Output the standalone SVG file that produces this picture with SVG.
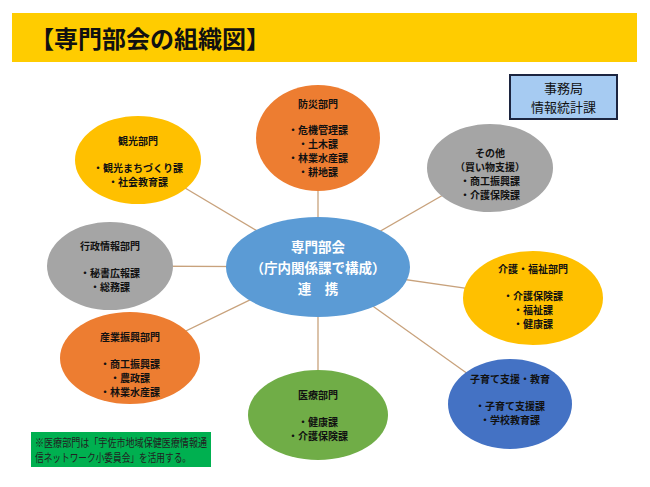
<svg xmlns="http://www.w3.org/2000/svg" width="650" height="487" viewBox="0 0 650 487">
<style>
text{font-family:"Noto Sans CJK JP","Noto Sans CJK SC",sans-serif;text-anchor:middle;fill:#111}
.n{font-size:10px;font-weight:bold}
.c{font-size:13.5px;font-weight:bold;fill:#fff}
.conn line{stroke:#C8A27C;stroke-width:1.3}
</style>
<rect width="650" height="487" fill="#fff"/>
<g id="header">
<rect x="12" y="13" width="625" height="49" fill="#FFCC00"/>
<text x="30" y="48" style="font-size:24px;font-weight:bold;text-anchor:start">【専門部会の組織図】</text>
</g>
<g id="jimukyoku">
<rect x="510" y="75" width="107" height="44" fill="#A6CBF2" stroke="#1C2540" stroke-width="2"/>
<text x="563.5" y="93" style="font-size:13px">事務局</text>
<text x="563.5" y="112" style="font-size:13px">情報統計課</text>
</g>
<g class="conn" id="connectors">
<line x1="318" y1="267" x2="318" y2="138"/>
<line x1="318" y1="267" x2="138" y2="160"/>
<line x1="318" y1="267" x2="490" y2="168"/>
<line x1="318" y1="267" x2="110" y2="266"/>
<line x1="318" y1="267" x2="533" y2="298"/>
<line x1="318" y1="267" x2="130" y2="358"/>
<line x1="318" y1="267" x2="318" y2="415"/>
<line x1="318" y1="267" x2="510" y2="404"/>
</g>
<g id="bosai">
<ellipse cx="318" cy="138" rx="62" ry="53" fill="#ED7D31"/>
<text class="n" x="318" y="108">防災部門</text>
<text class="n" x="318" y="134">・危機管理課</text>
<text class="n" x="318" y="148">・土木課</text>
<text class="n" x="318" y="162">・林業水産課</text>
<text class="n" x="318" y="176">・耕地課</text>
</g>
<g id="kanko">
<ellipse cx="138" cy="160" rx="63" ry="44" fill="#FFC000"/>
<text class="n" x="138" y="145">観光部門</text>
<text class="n" x="138" y="172">・観光まちづくり課</text>
<text class="n" x="138" y="186">・社会教育課</text>
</g>
<g id="sonota">
<ellipse cx="490" cy="168" rx="63" ry="44" fill="#A5A5A5"/>
<text class="n" x="490" y="157">その他</text>
<text class="n" x="490" y="171">（買い物支援）</text>
<text class="n" x="490" y="185">・商工振興課</text>
<text class="n" x="490" y="199">・介護保険課</text>
</g>
<g id="gyosei">
<ellipse cx="110" cy="266" rx="63" ry="44" fill="#A5A5A5"/>
<text class="n" x="110" y="250">行政情報部門</text>
<text class="n" x="110" y="277">・秘書広報課</text>
<text class="n" x="110" y="291">・総務課</text>
</g>
<g id="center">
<ellipse cx="318" cy="267" rx="92" ry="50" fill="#5B9BD5"/>
<text class="c" x="318" y="252">専門部会</text>
<text class="c" x="318" y="273">（庁内関係課で構成）</text>
<text class="c" x="318" y="294">連　携</text>
</g>
<g id="kaigo">
<ellipse cx="533" cy="298" rx="70" ry="47" fill="#FFC000"/>
<text class="n" x="533" y="273">介護・福祉部門</text>
<text class="n" x="533" y="300">・介護保険課</text>
<text class="n" x="533" y="314">・福祉課</text>
<text class="n" x="533" y="328">・健康課</text>
</g>
<g id="sangyo">
<ellipse cx="130" cy="358" rx="70" ry="46" fill="#ED7D31"/>
<text class="n" x="130" y="341">産業振興部門</text>
<text class="n" x="130" y="368">・商工振興課</text>
<text class="n" x="130" y="382">・農政課</text>
<text class="n" x="130" y="396">・林業水産課</text>
</g>
<g id="iryo">
<ellipse cx="318" cy="415" rx="70" ry="45" fill="#70AD47"/>
<text class="n" x="318" y="399">医療部門</text>
<text class="n" x="318" y="426">・健康課</text>
<text class="n" x="318" y="440">・介護保険課</text>
</g>
<g id="kosodate">
<ellipse cx="510" cy="404" rx="62" ry="45" fill="#4472C4"/>
<text class="n" x="510" y="383">子育て支援・教育</text>
<text class="n" x="510" y="410">・子育て支援課</text>
<text class="n" x="510" y="424">・学校教育課</text>
</g>
<g id="note">
<rect x="31" y="432" width="180" height="35" fill="#00B050"/>
<text x="35" y="447" style="font-size:11.5px;text-anchor:start;fill:#222" textLength="172" lengthAdjust="spacingAndGlyphs">※医療部門は「宇佐市地域保健医療情報通</text>
<text x="35" y="462" style="font-size:11.5px;text-anchor:start;fill:#222" textLength="156" lengthAdjust="spacingAndGlyphs">信ネットワーク小委員会」を活用する。</text>
</g>
</svg>
